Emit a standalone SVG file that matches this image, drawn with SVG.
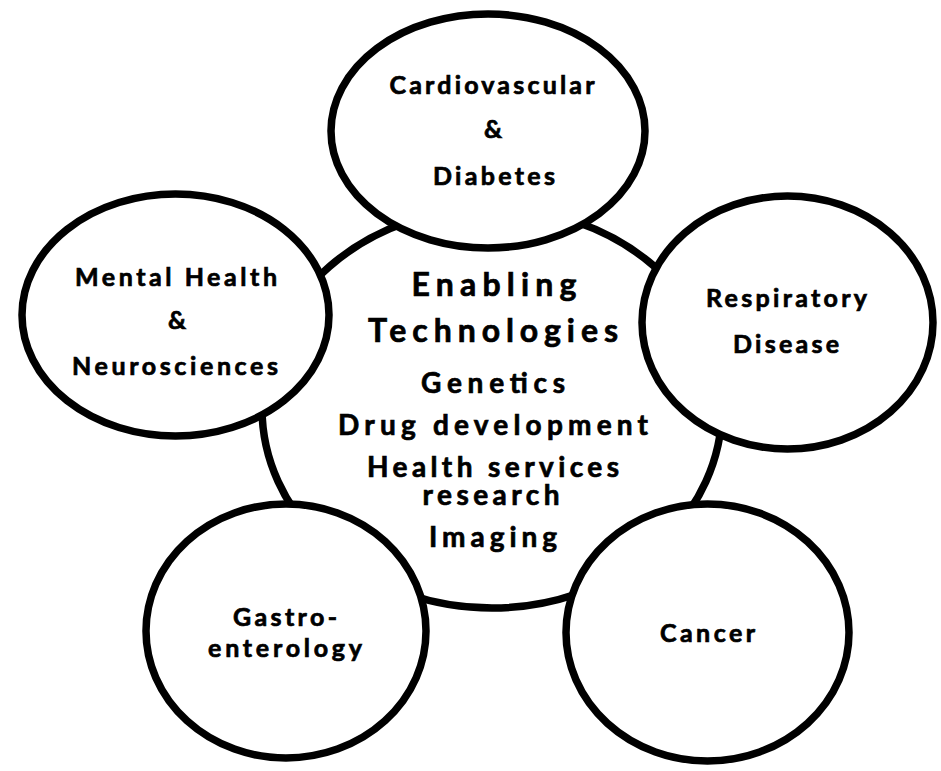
<svg xmlns="http://www.w3.org/2000/svg" width="941" height="771" viewBox="0 0 941 771">
<style>
.shape{fill:#fff;stroke:#000;stroke-width:7.5}
text{font-family:Lato,"Open Sans","Liberation Sans",sans-serif;font-weight:bold;fill:#000;stroke:#000;stroke-width:0.7;text-anchor:middle}
.s{font-size:25px}
.h{font-size:32px}
.m{font-size:28px}
</style>
<rect width="941" height="771" fill="#fff"/>
<g id="enabling-technologies">
<ellipse class="shape" cx="492" cy="408" rx="230" ry="200"/>
<text class="h" x="494" y="296" textLength="165" lengthAdjust="spacing">Enabling</text>
<text class="h" x="493" y="342" textLength="250" lengthAdjust="spacing">Technologies</text>
<text class="m" x="493" y="393" textLength="144" lengthAdjust="spacing">Genetics</text>
<text class="m" x="493" y="435" textLength="310" lengthAdjust="spacing">Drug development</text>
<text class="m" x="493" y="477" textLength="252" lengthAdjust="spacing">Health services</text>
<text class="m" x="491" y="505" textLength="137" lengthAdjust="spacing">research</text>
<text class="m" x="493" y="547" textLength="128" lengthAdjust="spacing">Imaging</text>
</g>
<g id="cardiovascular">
<ellipse class="shape" cx="488" cy="131" rx="157" ry="117"/>
<text class="s" x="492" y="94" textLength="205" lengthAdjust="spacing">Cardiovascular</text>
<text class="s" x="493" y="138">&amp;</text>
<text class="s" x="494" y="185" textLength="122" lengthAdjust="spacing">Diabetes</text>
</g>
<g id="mental-health">
<ellipse class="shape" cx="175.5" cy="315" rx="153.5" ry="121"/>
<text class="s" x="176" y="286" textLength="202" lengthAdjust="spacing">Mental Health</text>
<text class="s" x="177" y="329">&amp;</text>
<text class="s" x="175" y="375" textLength="206" lengthAdjust="spacing">Neurosciences</text>
</g>
<g id="respiratory">
<ellipse class="shape" cx="787.5" cy="322.5" rx="145.5" ry="126.5"/>
<text class="s" x="786.5" y="307" textLength="161" lengthAdjust="spacing">Respiratory</text>
<text class="s" x="786" y="353" textLength="106" lengthAdjust="spacing">Disease</text>
</g>
<g id="gastroenterology">
<ellipse class="shape" cx="286" cy="631" rx="140" ry="127"/>
<text class="s" x="285" y="626" textLength="104" lengthAdjust="spacing">Gastro-</text>
<text class="s" x="285" y="657" textLength="154" lengthAdjust="spacing">enterology</text>
</g>
<g id="cancer">
<ellipse class="shape" cx="707.5" cy="632.5" rx="141.5" ry="128.5"/>
<text class="s" x="707.5" y="642" textLength="95" lengthAdjust="spacing">Cancer</text>
</g>
</svg>
